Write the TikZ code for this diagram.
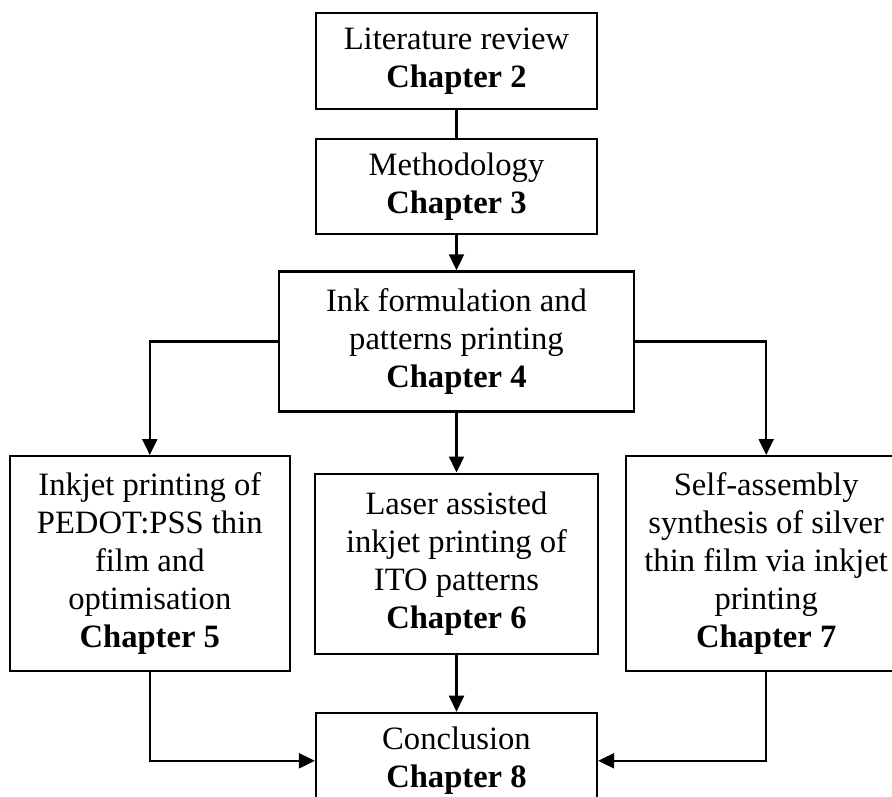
\documentclass[tikz,border=0pt]{standalone}
\usepackage{fontspec}
\setmainfont{Liberation Serif}
\usetikzlibrary{arrows.meta,positioning}
\tikzset{
  chap/.style={rectangle,draw=black,fill=white,line width=2.2pt,
               minimum width=#1,inner sep=0pt,align=center,
               font=\fontsize{32.6}{38}\selectfont},
  chap/.default=281pt,
  arr/.style={-{Triangle[width=15pt,length=16pt]},line width=2.2pt},
  link/.style={line width=2.2pt},
}
\newcommand{\chapno}[1]{\textbf{Chapter #1}}

\begin{document}
\begin{tikzpicture}[x=1pt,y=1pt]

  %% ── frame (the picture is cut at right and bottom) ──────────────────────
  \useasboundingbox (0,0) rectangle (892,-796);
  \clip (0,0) rectangle (892,-796);

  %% ── main chain ──────────────────────────────────────────────────────────
  \node[chap,minimum height=96pt] (lit) at (456.5,-61)
        {Literature review\\\chapno{2}};
  \node[chap,minimum height=95pt,below=28pt of lit] (meth)
        {Methodology\\\chapno{3}};
  \node[chap=355pt,minimum height=140pt,below=35pt of meth] (ink)
        {Ink formulation and\\patterns printing\\\chapno{4}};

  %% ── three studies ───────────────────────────────────────────────────────
  \node[chap=283pt,minimum height=180pt,below=60pt of ink] (laser)
        {Laser assisted\\inkjet printing of\\ITO patterns\\\chapno{6}};
  \node[chap=280pt,minimum height=215pt,left=23pt of laser] (pedot)
        {Inkjet printing of\\PEDOT:PSS thin\\film and\\optimisation\\\chapno{5}};
  \node[chap=280pt,minimum height=215pt,right=26pt of laser] (self)
        {Self-assembly\\synthesis of silver\\thin film via inkjet\\printing\\\chapno{7}};

  %% ── conclusion ──────────────────────────────────────────────────────────
  \node[chap,minimum height=96pt,below=57pt of laser] (concl)
        {Conclusion\\\chapno{8}};

  %% ── connectors ──────────────────────────────────────────────────────────
  \draw[link] (lit) -- (meth);
  \draw[arr] (meth) -- (ink);
  \draw[arr] (ink.west) -| (pedot.north);
  \draw[arr] (ink) -- (laser);
  \draw[arr] (ink.east) -| (self.north);
  \draw[arr] (laser) -- (concl);
  \draw[arr] (pedot.south) |- (concl.west);
  \draw[arr] (self.south) |- (concl.east);

\end{tikzpicture}
\end{document}
